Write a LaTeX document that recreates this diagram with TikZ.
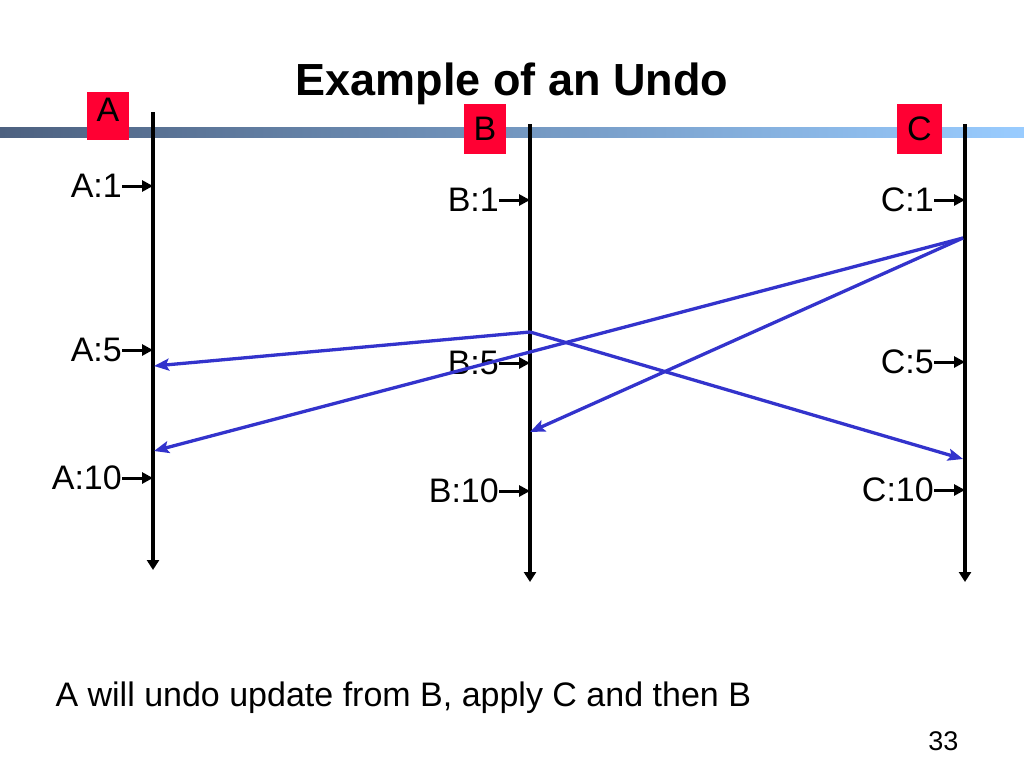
\documentclass[tikz,border=0pt]{standalone}
\usepackage{fontspec}
\setmainfont{Liberation Sans}
\usetikzlibrary{arrows.meta,positioning}
\definecolor{boxred}{RGB}{255,0,51}
\definecolor{msgblue}{RGB}{51,51,204}
\definecolor{barleft}{RGB}{77,97,128}
\definecolor{barright}{RGB}{153,204,255}

\begin{document}
\begin{tikzpicture}[
	x=1pt, y=-1pt,
	lifeline/.style={
		line width=3.5pt, -{Triangle[length=10pt,width=12pt]}
	},
	tick/.style={
		line width=3pt, -{Triangle[length=11pt,width=11pt]}
	},
	msg/.style={
		msgblue, line width=3.3pt, -{Stealth[length=15pt,width=12pt,inset=3pt]}
	},
	procbox/.style={
		fill=boxred, inner sep=0pt, font=\fontsize{34}{40}\selectfont
	},
	ticklabel/.style={
		anchor=east, inner sep=0pt, font=\fontsize{34}{40}\selectfont
	}
]
\useasboundingbox (0,0) rectangle (1024,768);
\fill[left color=barleft, right color=barright] (0,127) rectangle (1024,137);

\node[anchor=base, font=\fontsize{45}{54}\selectfont\bfseries] (title) at (512,95) {Example of an Undo};

\node[procbox, minimum width=42pt, minimum height=48pt, text depth=12pt] (boxA) at (108,116) {A};
\node[procbox, minimum width=42pt, minimum height=50pt] (boxB) at (485,129) {B};
\node[procbox, minimum width=45pt, minimum height=50pt] (boxC) at (919.5,129) {C};

\coordinate (topA) at (153,112);
\coordinate (botA) at (153,570);
\coordinate (topB) at (530,124);
\coordinate (botB) at (530,582);
\coordinate (topC) at (965,124);
\coordinate (botC) at (965,582);
\foreach \p in {A,B,C} {
	\draw[lifeline] (top\p)--(bot\p);
}

\foreach \p/\x/\ya/\yb/\yc in {A/153/186/350/478, B/530/200/363/491, C/965/200/362/490} {
	\foreach \n/\y in {1/\ya, 5/\yb, 10/\yc} {
		\coordinate (t\p\n) at (\x,\y);
		\node[ticklabel] (\p\n) at (\x-31,\y) {\p:\n};
		\draw[tick] (\p\n.east)--(t\p\n);
	}
}

\coordinate (sendB) at (530,332);
\coordinate (sendC) at (963,238);
\coordinate (recvA1) at (154,366);
\coordinate (recvA2) at (154,451);
\coordinate (recvB) at (530,432);
\coordinate (recvC) at (963,459);
\draw[msg] (sendB)--(recvA1);
\draw[msg] (sendB)--(recvC);
\draw[msg] (sendC)--(recvA2);
\draw[msg] (sendC)--(recvB);

\node[anchor=base west, font=\fontsize{34}{40}\selectfont] (note) at (52,706) {A will undo update from B, apply C and then B};
\node[anchor=base east, font=\fontsize{27}{32}\selectfont] (page) at (962,750) {33};
\end{tikzpicture}
\end{document}
